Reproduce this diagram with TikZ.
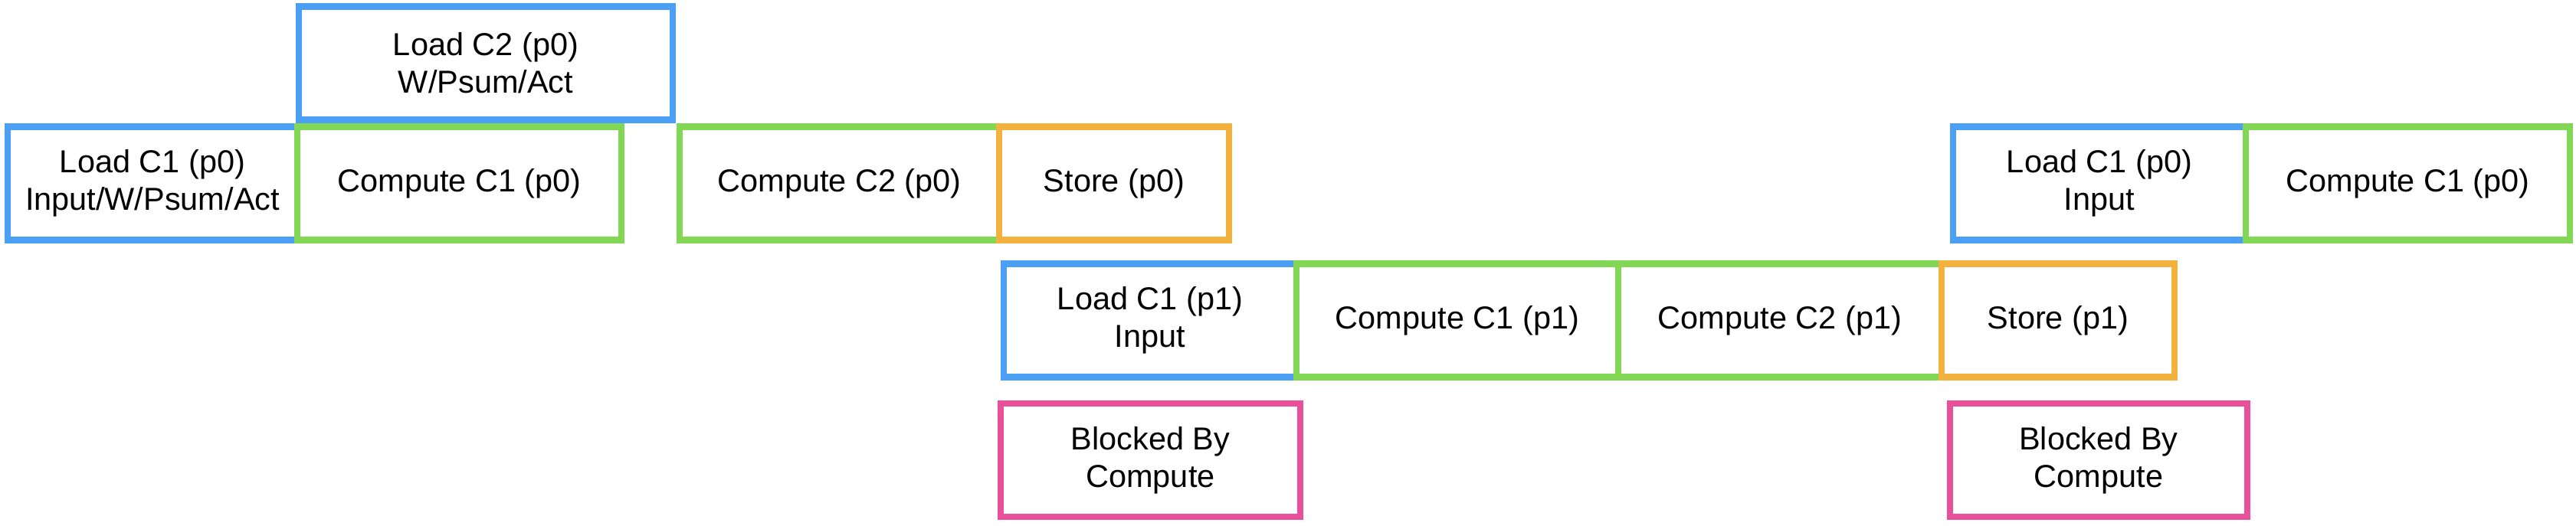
\documentclass[tikz,border=0pt]{standalone}
\usepackage{fontspec}
\setmainfont{Liberation Sans}
\definecolor{ldblue}{HTML}{4B9FF4}
\definecolor{cpgreen}{HTML}{82D755}
\definecolor{storange}{HTML}{F3B13D}
\definecolor{blpink}{HTML}{EA4F9B}

\begin{document}
\begin{tikzpicture}
\tikzstyle{every node}=[font=\fontsize{11.8}{14}\selectfont, align=center, inner sep=0pt, minimum height=1.48cm, line width=2.3pt]
\tikzstyle{load}=[draw=ldblue]
\tikzstyle{comp}=[draw=cpgreen]
\tikzstyle{store}=[draw=storange]
\tikzstyle{block}=[draw=blpink]

\useasboundingbox (0,0) rectangle (33.62,-6.86);

% one coordinate per row
\path (0,-0.825) coordinate (r0);
\path (0,-2.395) coordinate (r1);
\path (0,-4.185) coordinate (r2);
\path (0,-6.01) coordinate (r3);

% pass p0
\path (r0) +(6.34,0) node[load, minimum width=4.88cm] (ld2p0) {Load C2 (p0)\\W/Psum/Act};
\path (r1) +(1.99,0) node[load, minimum width=3.78cm] (ld1p0) {Load C1 (p0)\\Input/W/Psum/Act};
\path (r1) +(5.995,0) node[comp, minimum width=4.23cm] (cp1p0) {Compute C1 (p0)};
\path (r1) +(10.955,0) node[comp, minimum width=4.17cm] (cp2p0) {Compute C2 (p0)};
\path (r1) +(14.54,0) node[store, minimum width=3.0cm] (stp0) {Store (p0)};

% pass p1
\path (r2) +(15.01,0) node[load, minimum width=3.82cm] (ld1p1) {Load C1 (p1)\\Input};
\path (r2) +(19.02,0) node[comp, minimum width=4.2cm] (cp1p1) {Compute C1 (p1)};
\path (r2) +(23.23,0) node[comp, minimum width=4.22cm] (cp2p1) {Compute C2 (p1)};
\path (r2) +(26.86,0) node[store, minimum width=3.04cm] (stp1) {Store (p1)};

% stalls
\path (r3) +(15.015,0) node[block, minimum width=3.91cm] (blk1) {Blocked By\\Compute};
\path (r3) +(27.39,0) node[block, minimum width=3.88cm] (blk2) {Blocked By\\Compute};

% next p0
\path (r1) +(27.40,0) node[load, minimum width=3.82cm] (ld1p0b) {Load C1 (p0)\\Input};
\path (r1) +(31.425,0) node[comp, minimum width=4.23cm] (cp1p0b) {Compute C1 (p0)};
\end{tikzpicture}
\end{document}
